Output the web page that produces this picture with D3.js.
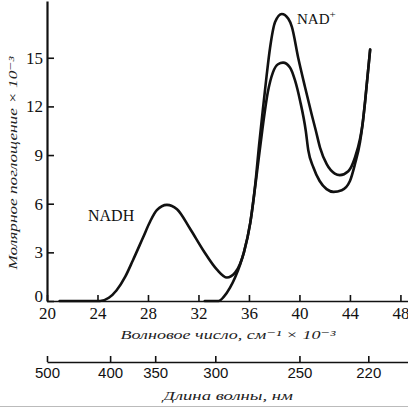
<!DOCTYPE html>
<html>
<head>
<meta charset="utf-8">
<script src="https://cdn.jsdelivr.net/npm/d3@7"></script>
<style>
  body { margin: 0; background: #fff; }
  svg { display: block; }
</style>
</head>
<body>
<div id="chart"></div>
<script>
// wave number, 10^3 cm^-1
const nadh_nu = [21, 24.2, 24.9, 25.5, 26.2, 26.8, 27.6, 28.2, 28.7, 29.5, 30.3, 31.3, 32.4, 33.45, 34.25,
  34.9, 35.3, 35.6, 36.1, 36.55, 37.05, 37.5, 37.9, 38.3, 38.7, 39.25, 39.65, 40.05, 40.5, 40.7,
  41.1, 41.6, 42.15, 42.7, 43.35, 44.0, 44.4, 44.8, 45.0, 45.2, 45.6];
// molar absorption, x 10^-3
const nadh_eps = [0, 0, 0.2, 0.65, 1.5, 2.5, 3.9, 4.95, 5.6, 5.93, 5.66, 4.5, 3.1, 1.95, 1.45,
  1.75, 2.3, 3.0, 4.8, 7.4, 10.5, 12.9, 14.1, 14.6, 14.7, 14.4, 13.6, 12.35, 10.5, 9.3,
  8.25, 7.4, 6.9, 6.73, 6.83, 7.4, 8.45, 9.8, 10.9, 12.3, 15.5];

const nad_nu = [32.5, 33.6, 34.0, 34.5, 34.9, 35.3, 35.6, 36.1, 36.5, 36.8, 37.1, 37.4, 37.67, 38.07,
  38.6, 39.12, 39.4, 39.9, 40.44, 40.97, 41.3, 41.63, 42.16, 42.8, 43.2, 43.87, 44.4, 44.8,
  45.0, 45.2, 45.6];
const nad_eps = [0, 0, 0.25, 0.82, 1.45, 2.25, 3.0, 4.8, 7.2, 9.6, 11.8, 13.9, 15.6, 17.2,
  17.7, 17.4, 16.9, 15.0, 13.2, 11.5, 10.5, 9.46, 8.44, 7.86, 7.76, 8.0, 8.85, 10.0,
  10.9, 12.3, 15.5];

const x_ticks = [20, 24, 28, 32, 36, 40, 44, 48];
const y_ticks = [0, 3, 6, 9, 12, 15];
const wl_ticks = [500, 400, 350, 300, 250, 220];   // nm

const width = 408;
const height = 408;

const svg = d3.select("#chart")
  .append("svg")
  .attr("width", width)
  .attr("height", height);

svg.append("rect")
  .attr("width", width)
  .attr("height", height)
  .attr("fill", "#fff");

const x = d3.scaleLinear().domain([20, 48.6]).range([47, 408]);
const y = d3.scaleLinear().domain([0, 18.5]).range([301, 1]);

const serif = "'Liberation Serif', 'DejaVu Serif', serif";
const sans = "'Liberation Sans', Arial, sans-serif";

// wave number axis
const gx = svg.append("g")
  .attr("transform", `translate(0,${y(0)})`)
  .call(d3.axisBottom(x)
    .tickValues(x_ticks)
    .tickSizeInner(-6)
    .tickSizeOuter(0)
    .tickPadding(6));

// absorption axis
const gy = svg.append("g")
  .attr("transform", `translate(${x(20)},0)`)
  .call(d3.axisLeft(y)
    .tickValues(y_ticks)
    .tickSizeInner(-7)
    .tickSizeOuter(0)
    .tickPadding(4));

// wavelength axis, placed on the same wave number scale
const gw = svg.append("g")
  .attr("transform", "translate(0,362)")
  .call(d3.axisBottom(x)
    .tickValues(wl_ticks.map((w) => 1e4 / w))
    .tickFormat((d) => Math.round(1e4 / d))
    .tickSizeInner(-6)
    .tickSizeOuter(0)
    .tickPadding(5));

[gx, gy, gw].forEach((g) => {
  g.select(".domain").attr("stroke", "#111").attr("stroke-width", 1.6);
  g.selectAll(".tick line").attr("stroke", "#111").attr("stroke-width", 1.6);
  g.selectAll(".tick text").attr("fill", "#111");
});
gy.select(".domain").attr("stroke-width", 2.2);

gx.selectAll(".tick text").style("font", `17px ${serif}`);
gy.selectAll(".tick text").style("font", `17px ${serif}`);
gw.selectAll(".tick text").style("font", `15px ${sans}`);

// the zero label sits a little above the baseline, clear of "20"
gy.selectAll(".tick text")
  .filter((d) => d === 0)
  .attr("dy", "0.05em");

// curves
const line = d3.line()
  .x((d) => x(d[0]))
  .y((d) => y(d[1]))
  .curve(d3.curveMonotoneX);

const series = [
  d3.zip(nadh_nu, nadh_eps),
  d3.zip(nad_nu, nad_eps)
];

svg.selectAll("path.curve")
  .data(series)
  .enter()
  .append("path")
  .attr("class", "curve")
  .attr("d", line)
  .attr("fill", "none")
  .attr("stroke", "#111")
  .attr("stroke-width", 2.6)
  .attr("stroke-linejoin", "round")
  .attr("stroke-linecap", "round");

// curve labels
svg.append("text")
  .attr("x", 88)
  .attr("y", 221)
  .style("font", `16px ${serif}`)
  .attr("fill", "#111")
  .text("NADH");

const nad_label = svg.append("text")
  .attr("x", 297)
  .attr("y", 24)
  .style("font", `15px ${serif}`)
  .attr("fill", "#111");
nad_label.append("tspan").text("NAD");
nad_label.append("tspan").attr("dy", -6).style("font-size", "11px").text("+");

// axis titles
const title = (sel) => sel
  .attr("text-anchor", "middle")
  .attr("fill", "#222")
  .attr("lengthAdjust", "spacingAndGlyphs")
  .style("font", `italic 13px ${serif}`);

svg.append("text")
  .call(title)
  .attr("x", 228)
  .attr("y", 339)
  .attr("textLength", 215)
  .text("Волновое число, см⁻¹ × 10⁻³");

svg.append("text")
  .call(title)
  .attr("x", 228)
  .attr("y", 400)
  .attr("textLength", 130)
  .text("Длина волны, нм");

svg.append("text")
  .call(title)
  .attr("transform", "translate(17,163) rotate(-90)")
  .attr("textLength", 213)
  .text("Молярное поглощение × 10⁻³");

// bottom border of the scan
svg.append("line")
  .attr("x1", 0).attr("x2", width)
  .attr("y1", 406.5).attr("y2", 406.5)
  .attr("stroke", "#bbb")
  .attr("stroke-width", 1);
</script>
</body>
</html>
